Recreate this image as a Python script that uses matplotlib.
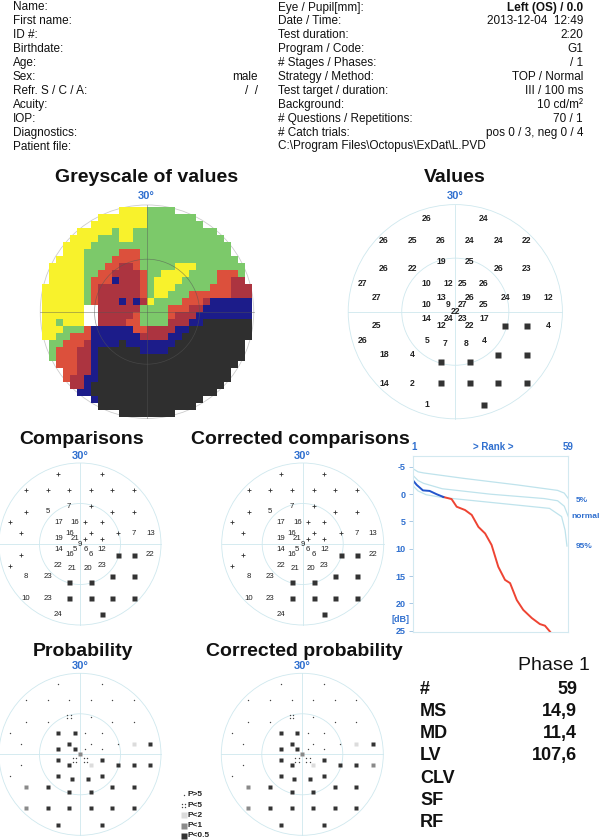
import matplotlib
matplotlib.use("Agg")
import matplotlib.pyplot as plt
from matplotlib.patches import Circle
import numpy as np

plt.rcParams['font.family'] = ['Liberation Sans', 'DejaVu Sans']

W, H = 600, 840
BLUE = '#2f6fcf'
GRID = '#cfe8ee'
DARK = '#333333'

# ---------------- header ----------------
left_labels = ["Name:", "First name:", "ID #:", "Birthdate:", "Age:", "Sex:",
               "Refr. S / C / A:", "Acuity:", "IOP:", "Diagnostics:", "Patient file:"]
left_values = ["", "", "", "", "", "male", "/  /", "", "", "", ""]
right_labels = ["Eye / Pupil[mm]:", "Date / Time:", "Test duration:", "Program / Code:",
                "# Stages / Phases:", "Strategy / Method:", "Test target / duration:",
                "Background:", "# Questions / Repetitions:", "# Catch trials:",
                "C:\\Program Files\\Octopus\\ExDat\\L.PVD"]
right_values = ["Left (OS) / 0.0", "2013-12-04  12:49", "2:20", "G1", "/ 1",
                "TOP / Normal", "III / 100 ms", "10 cd/m²", "70 / 1",
                "pos 0 / 3, neg 0 / 4", ""]

# ---------------- G1 test points (degrees) ----------------
pt_x = [-8, 8,
        -20, -12, -4, 4, 12, 20,
        -4, 4,
        -20, -12, 12, 20,
        -26, -8, -2, 2, 8,
        -22, -4, 4, 14, 20, 26,
        -8, -2, 2, 8,
        0,
        -8, -2, 2, 8,
        -22, -4, 4, 14, 20, 26,
        -26, -8, 8,
        -3, 3,
        -20, -12, 12, 20,
        -4, 4,
        -20, -12, -4, 4, 12, 20,
        -8, 8]
pt_y = [26, 26,
        20, 20, 20, 20, 20, 20,
        14, 14,
        12, 12, 12, 12,
        8, 8, 8, 8, 8,
        4, 4, 4, 4, 4, 4,
        2, 2, 2, 2,
        0,
        -2, -2, -2, -2,
        -4, -4, -4, -4, -4, -4,
        -8, -8, -8,
        -9, -9,
        -12, -12, -12, -12,
        -14, -14,
        -20, -20, -20, -20, -20, -20,
        -26, -26]

# measured thresholds in dB, 0 = no response (square)
values = [26, 24,
          26, 25, 26, 24, 24, 22,
          19, 25,
          26, 22, 26, 23,
          27, 10, 12, 25, 26,
          27, 13, 26, 24, 19, 12,
          10, 9, 27, 25,
          22,
          14, 24, 23, 17,
          25, 12, 22, 0, 0, 4,
          26, 5, 4,
          7, 8,
          18, 4, 0, 0,
          0, 0,
          14, 2, 0, 0, 0, 0,
          1, 0]

# comparisons: '+' normal, '#' = absolute defect square
comparisons = ['+', '+',
               '+', '+', '+', '+', '+', '+',
               '7', '+',
               '+', '5', '+', '+',
               '+', '17', '16', '+', '+',
               '+', '16', '+', '+', '7', '13',
               '19', '21', '+', '+',
               '9',
               '14', '5', '6', '12',
               '+', '16', '6', '#', '#', '22',
               '+', '22', '23',
               '21', '20',
               '8', '23', '#', '#',
               '#', '#',
               '10', '23', '#', '#', '#', '#',
               '24', '#']
corr_comparisons = list(comparisons)

# probability classes: 0 P>5, 1 P<5, 2 P<2, 3 P<1, 4 P<0.5
probability = [0, 0,
               0, 0, 0, 0, 0, 0,
               1, 0,
               0, 0, 0, 0,
               0, 4, 4, 0, 0,
               0, 4, 0, 0, 2, 4,
               4, 4, 0, 0,
               3,
               4, 1, 1, 4,
               0, 4, 2, 4, 4, 4,
               0, 4, 4,
               4, 4,
               3, 4, 4, 4,
               4, 4,
               3, 4, 4, 4, 4, 4,
               4, 4]
corr_probability = list(probability)
corr_probability[39] = 3

prob_labels = ["P>5", "P<5", "P<2", "P<1", "P<0.5"]

# ---------------- greyscale map (2 deg cells, top row first) ----------------
grey_rows = [
    "...........YYYYGGGG...........",
    "........YYYYYYYGGGGGGG........",
    ".......YYYYYYYYGGGGGGGG.......",
    ".....YYYYYGYYGGGGGGGGGGGG.....",
    "....YYYYGGGYYGGGGGGGGGGGGG....",
    "...YYYYGGGGGGGGGGGGGGGGGGGG...",
    "...YYYGGGGGRRRGGGGGGGGGGGGG...",
    "..YYYYGGGGRRRRGGGGGGGGGGGGGG..",
    ".YYYYYGGGRRDDRGGGGGYYYGGGGGGG.",
    ".YYYYYGGRRDDDDRGGYYYYGGGGRRRG.",
    ".YYYYYGRRRBDDDRGYYYYGGGGGRRDD.",
    "YYYYYYGRDDDDDDRGYYYGGGGGRRRDDD",
    "YYYYYYGRDDDDDDRGYYGGGRRRRRRDDD",
    "YYYYYYGRDDDBDBDYGGGGRRRDBBBBBB",
    "YYYYYYWWDDDDDDGGGGRRRDDBBBBBBB",
    "YYYYYYWWDDDDDRGGGGRDDDBBBBBBBB",
    "YYGYYYWWDDDDRRGGGGDDDBBKKKKKKK",
    "YYYGGGRBBBBBBRRDDDDBBKKKKKKKKK",
    "YYGGRRRBBBBBBBDDDDBBKKKKKKKKKK",
    ".GGRRRDBBBBKBBBBBBBKKKKKKKKKK.",
    ".GRRRDDBKKKKKKBBBBKKKKKKKKKKK.",
    ".GRRRDDBKKKKKKKKKKKKKKKKKKKKK.",
    "..RRRDDBKKKKKKKKKKKKKKKKKKKK..",
    "...RRDDBKKKKKKKKKKKKKKKKKKK...",
    "...RDDBBKKKKKKKKKKKKKKKKKKK...",
    "....DDBKKKKKKKKKKKKKKKKKKK....",
    ".....BBKKKKKKKKKKKKKKKKKK.....",
    ".......BKKKKKKKKKKKKKKK.......",
    "........KKKKKKKKKKKKKK........",
    "...........KKKKKKKK...........",
]
grey_colors = {'Y': '#f8f22c', 'G': '#7cc96a', 'R': '#dc503c', 'D': '#ac3440',
               'B': '#1c1c8a', 'K': '#2f2f2f', 'W': '#ffffff'}

# ---------------- rank (Bebie) curve ----------------
rank_meas = [1, 2.5, 4.8, 7.3, 9.9, 12.4, 15.5, 17.4, 20.5, 23, 25.5, 28, 30.4,
             32.9, 35.4, 37.3, 39.8, 42.2, 45.4, 48.4, 50.3, 52.2]
defect_meas = [-2.6, -1.7, -0.7, -0.6, 0.0, 0.5, 0.9, 2.3, 2.9, 3.8, 6.0, 7.2, 9.3,
               13.3, 15.7, 16.3, 19.4, 21.2, 22.7, 23.8, 24.1, 25.2]
n_blue = 6
rank_p5 = [1, 3, 5, 20, 40, 55, 57.5, 59]
def_p5 = [-4.7, -4.1, -3.9, -2.9, -1.7, -0.7, -0.2, 0.8]
rank_norm = [1, 3, 5, 12, 30, 50, 55, 57.5, 59]
def_norm = [-3.5, -2.5, -2.0, -1.0, 0.0, 0.8, 1.2, 2.2, 4.1]
rank_p95 = [1, 3, 6, 12, 30, 52, 56.5, 57.8, 58.5]
def_p95 = [-1.6, -0.6, 0.1, 0.6, 1.5, 2.6, 4.1, 6.6, 9.5]
db_ticks = [-5, 0, 5, 10, 15, 20, 25]

stat_labels = ["#", "MS", "MD", "LV", "CLV", "SF", "RF"]
stat_values = ["59", "14,9", "11,4", "107,6", "", "", ""]

# ======================================================================
fig = plt.figure(figsize=(W / 100, H / 100), dpi=100)
page = fig.add_axes([0, 0, 1, 1])
page.set_xlim(0, W)
page.set_ylim(H, 0)
page.axis('off')

hfs = 8.5
for i in range(len(left_labels)):
    y = 7.5 + 13.9 * i
    page.text(12.7, y, left_labels[i], fontsize=hfs, va='center', color='#111')
    if left_values[i]:
        page.text(258, y, left_values[i], fontsize=hfs, va='center', ha='right', color='#111')
    page.text(278.3, y, right_labels[i], fontsize=hfs, va='center', color='#111')
    if right_values[i]:
        page.text(583, y, right_values[i], fontsize=hfs, va='center', ha='right', color='#111',
                  fontweight='bold' if i == 0 else 'normal')


def panel(cx, cy, s, half=33):
    ax = fig.add_axes([(cx - half * s) / W, 1 - (cy + half * s) / H,
                       2 * half * s / W, 2 * half * s / H])
    ax.set_xlim(-half, half)
    ax.set_ylim(-half, half)
    ax.axis('off')
    return ax


def grid(ax, color=GRID, lw=0.6):
    ax.add_patch(Circle((0, 0), 30, fill=False, ec=color, lw=lw))
    ax.add_patch(Circle((0, 0), 15, fill=False, ec=color, lw=lw))
    ax.plot([-30, 30], [0, 0], color=color, lw=lw)
    ax.plot([0, 0], [-30, 30], color=color, lw=lw)


def title(x, y, txt):
    page.text(x, y, txt, fontsize=14, fontweight='bold', ha='center', va='center', color='#111')


def deg_label(x, y):
    page.text(x, y, "30°", fontsize=8, fontweight='bold', ha='center', va='center', color=BLUE)


# ---- greyscale ----
title(147, 177, "Greyscale of values")
deg_label(146, 196)
ax = panel(147, 311.7, 3.5)
img = np.zeros((30, 30, 4))
for r, row in enumerate(grey_rows):
    row = row.ljust(30, '.')[:30]
    for c, ch in enumerate(row):
        if ch in grey_colors:
            img[r, c] = matplotlib.colors.to_rgba(grey_colors[ch])
ax.add_patch(Circle((0, 0), 30.5, fill=False, ec='#cccccc', lw=0.6))
ax.imshow(img, extent=(-30, 30, -30, 30), origin='upper', interpolation='nearest', zorder=2)
ax.add_patch(Circle((0, 0), 15, fill=False, ec='#555555', lw=0.5, alpha=0.6, zorder=3))
ax.plot([-30.5, 30.5], [0, 0], color='#555555', lw=0.5, alpha=0.6, zorder=3)
ax.plot([0, 0], [-30.5, 30.5], color='#555555', lw=0.5, alpha=0.6, zorder=3)
ax.set_xlim(-33, 33)
ax.set_ylim(-33, 33)

# ---- values ----
title(455, 178, "Values")
deg_label(455, 196)
ax = panel(455.3, 311.7, 3.57)
grid(ax)
for x, y, v in zip(pt_x, pt_y, values):
    if v == 0:
        ax.plot(x, y, 's', color=DARK, ms=4.3, mec='none')
    else:
        ax.text(x, y, str(v), fontsize=6.2, fontweight='bold', ha='center', va='center', color='#222')


def comp_panel(cx, cy, data, ttl, tx):
    title(tx, 440, ttl)
    deg_label(cx, 456)
    ax = panel(cx, cy, 2.7)
    grid(ax)
    for x, y, v in zip(pt_x, pt_y, data):
        if v == '+':
            ax.plot(x, y, '+', color='#333', ms=3.2, mew=0.6)
        elif v == '#':
            ax.plot(x, y, 's', color=DARK, ms=3.6, mec='none')
        else:
            ax.text(x, y, v, fontsize=5.6, ha='center', va='center', color='#222')


comp_panel(80, 544, comparisons, "Comparisons", 82)
comp_panel(302.7, 544, corr_comparisons, "Corrected comparisons", 300)

prob_shade = {2: '#dcdcdc', 3: '#8a8a8a', 4: '#333333'}


def prob_symbol(ax, x, y, k, d=0.7, ms=3.4, dot=1.0):
    if k == 0:
        ax.plot(x, y, 'o', color='#444', ms=dot, mec='none')
    elif k == 1:
        ax.plot([x - d, x + d, x - d, x + d], [y - d, y - d, y + d, y + d], 'o',
                color='#444', ms=dot, mec='none', ls='none')
    else:
        ax.plot(x, y, 's', color=prob_shade[k], ms=ms, mec='none')


def prob_panel(cx, data, ttl, tx):
    title(tx, 651, ttl)
    deg_label(cx, 666)
    ax = panel(cx, 754.3, 2.7)
    grid(ax)
    for x, y, k in zip(pt_x, pt_y, data):
        prob_symbol(ax, x, y, k)


prob_panel(80, probability, "Probability", 83)
prob_panel(302.3, corr_probability, "Corrected probability", 304)

# probability legend
for i, lab in enumerate(prob_labels):
    y = 795 + 10.2 * i
    prob_symbol(page, 183.5, y, i, d=1.6, ms=3.8, dot=1.0)
    page.text(187.5, y, lab, fontsize=6, fontweight='bold', va='center', color='#222')

# ---- rank curve ----
rax = fig.add_axes([412.7 / W, 1 - 631.7 / H, (568.3 - 412.7) / W, (631.7 - 456) / H])
rax.set_xlim(1, 59)
rax.set_ylim(25.2, -7)
for sp in rax.spines.values():
    sp.set_color('#d3e9f0')
    sp.set_linewidth(0.8)
rax.set_xticks([])
rax.set_yticks(db_ticks)
rax.set_yticklabels([str(t) for t in db_ticks], fontsize=6.5, fontweight='bold', color=BLUE)
rax.tick_params(axis='y', length=3, width=0.6, color='#9cc0e0', pad=2)
for rk, dv in ((rank_p5, def_p5), (rank_norm, def_norm), (rank_p95, def_p95)):
    rax.plot(rk, dv, color='#bfe3ec', lw=0.9)
rax.plot(rank_meas[n_blue - 1:], defect_meas[n_blue - 1:], color='#ee4433', lw=1.4)
rax.plot(rank_meas[:n_blue], defect_meas[:n_blue], color='#2255cc', lw=1.4)

page.text(411, 446.7, "1", fontsize=7, fontweight='bold', color=BLUE, va='center', ha='left')
page.text(493, 446.7, "> Rank >", fontsize=7, fontweight='bold', color=BLUE, va='center', ha='center')
page.text(568, 446.7, "59", fontsize=7, fontweight='bold', color=BLUE, va='center', ha='center')
page.text(400, 619, "[dB]", fontsize=6.5, fontweight='bold', color=BLUE, va='center', ha='center')
page.text(576, 500, "5%", fontsize=6, fontweight='bold', color=BLUE, va='center')
page.text(571.5, 517, "normal", fontsize=6, fontweight='bold', color=BLUE, va='center')
page.text(576, 546, "95%", fontsize=6, fontweight='bold', color=BLUE, va='center')

# ---- statistics ----
page.text(590, 665, "Phase 1", fontsize=14, ha='right', va='center', color='#111')
for i, (lab, val) in enumerate(zip(stat_labels, stat_values)):
    y = 689.3 + 22.2 * i
    page.text(420, y, lab, fontsize=13, fontweight='bold', va='center', color='#111')
    if val:
        page.text(577, y, val, fontsize=13, fontweight='bold', ha='right', va='center', color='#111')

fig.savefig("out.png", dpi=100, facecolor='white')
